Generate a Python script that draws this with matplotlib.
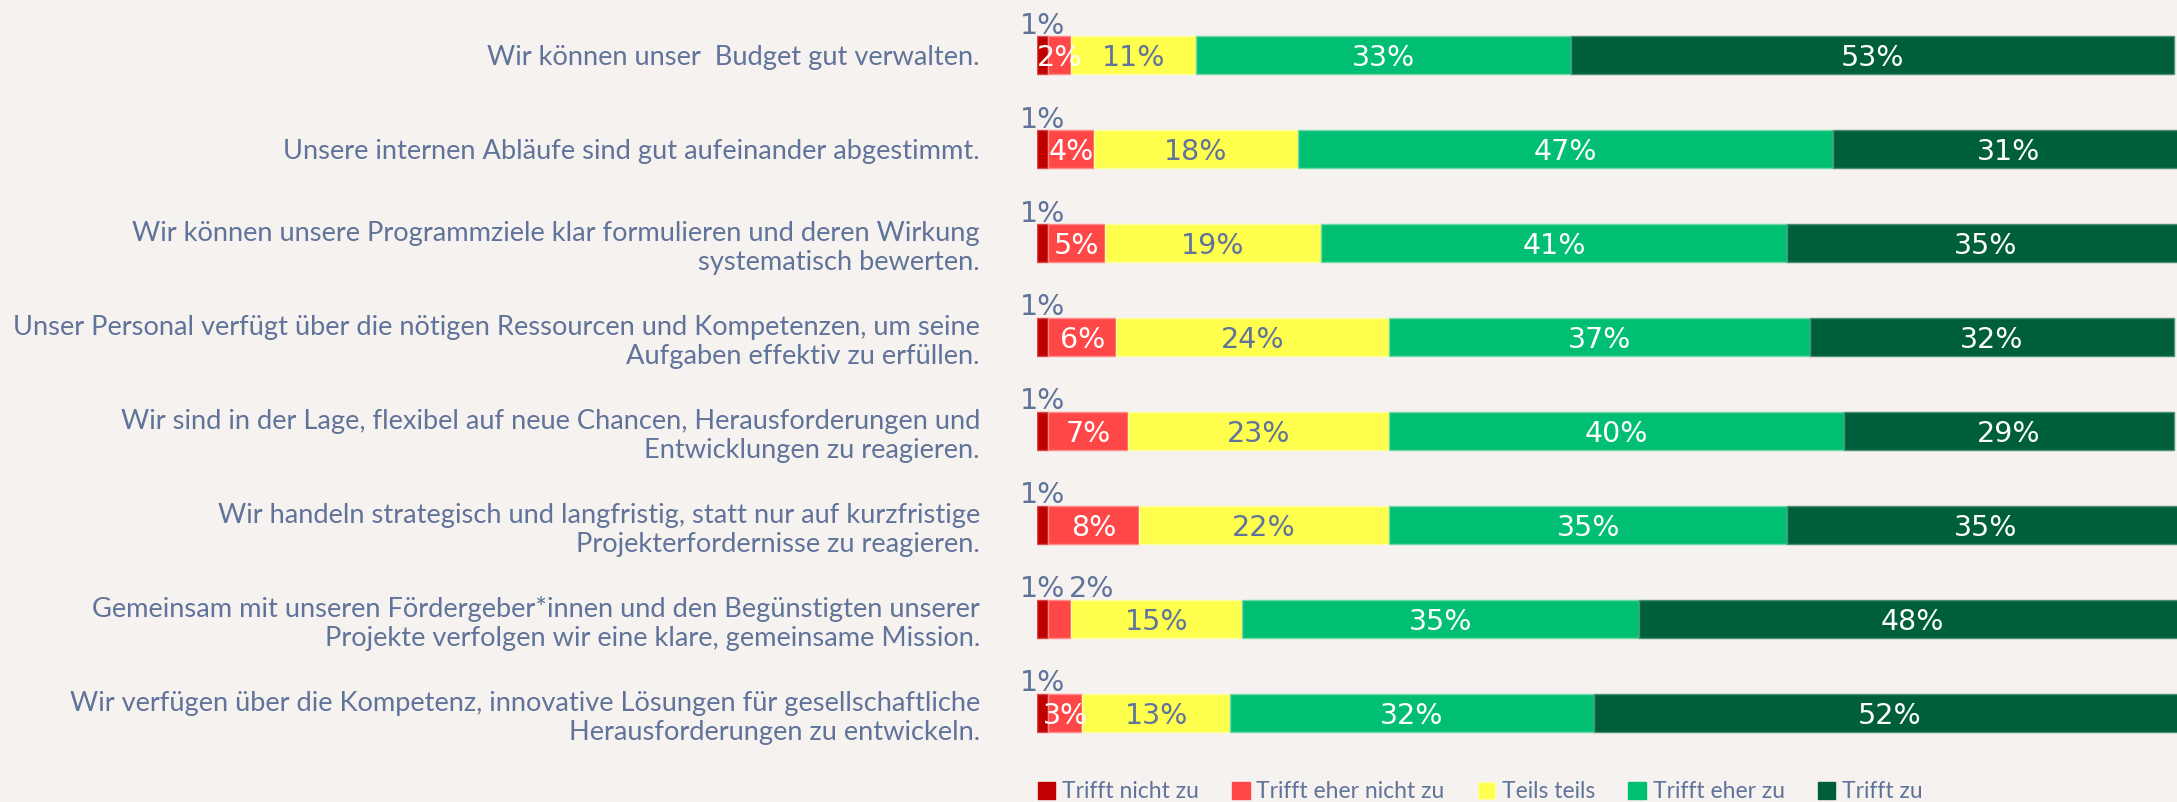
import matplotlib.pyplot as plt
from matplotlib.patches import Patch

# statements (top to bottom) and answer shares in %
statements = [
    'Wir können unser  Budget gut verwalten.',
    'Unsere internen Abläufe sind gut aufeinander abgestimmt.',
    'Wir können unsere Programmziele klar formulieren und deren Wirkung\nsystematisch bewerten.',
    'Unser Personal verfügt über die nötigen Ressourcen und Kompetenzen, um seine\nAufgaben effektiv zu erfüllen.',
    'Wir sind in der Lage, flexibel auf neue Chancen, Herausforderungen und\nEntwicklungen zu reagieren.',
    'Wir handeln strategisch und langfristig, statt nur auf kurzfristige\nProjekterfordernisse zu reagieren.',
    'Gemeinsam mit unseren Fördergeber*innen und den Begünstigten unserer\nProjekte verfolgen wir eine klare, gemeinsame Mission.',
    'Wir verfügen über die Kompetenz, innovative Lösungen für gesellschaftliche\nHerausforderungen zu entwickeln.',
]
trifft_nicht_zu = [1, 1, 1, 1, 1, 1, 1, 1]
trifft_eher_nicht_zu = [2, 4, 5, 6, 7, 8, 2, 3]
teils_teils = [11, 18, 19, 24, 23, 22, 15, 13]
trifft_eher_zu = [33, 47, 41, 37, 40, 35, 35, 32]
trifft_zu = [53, 31, 35, 32, 29, 35, 48, 52]

series_names = ['Trifft nicht zu', 'Trifft eher nicht zu', 'Teils teils', 'Trifft eher zu', 'Trifft zu']
series = [trifft_nicht_zu, trifft_eher_nicht_zu, teils_teils, trifft_eher_zu, trifft_zu]

colors = ['#c00000', '#ff4747', '#ffff4d', '#00bf73', '#005f3b']
edge_colors = ['#d84a4a', '#ff8a8a', '#ffffa6', '#6fd9a8', '#4d8f73']
label_colors = ['#60739a', 'white', '#60739a', 'white', 'white']
bg = '#f6f2ef'
text_col = '#60739a'
pct_font = 'DejaVu Sans'

plt.rcParams['font.family'] = ['Lato', 'DejaVu Sans']

fig = plt.figure(figsize=(21.77, 8.02), dpi=100, facecolor=bg)
ax = fig.add_axes([0.4763, 0.0524, 0.5237, 0.937])
ax.set_facecolor(bg)

bar_h = 0.405
ypos = list(range(len(statements)))
left = [0] * len(statements)

for k, (vals, name) in enumerate(zip(series, series_names)):
    ax.barh(ypos, vals, left=left, height=bar_h, color=colors[k],
            edgecolor=edge_colors[k], linewidth=1, label=name)
    for i, v in enumerate(vals):
        xc = left[i] + v / 2
        if k == 0:
            # tiny share -> label above the bar
            ax.annotate(f'{v}%', xy=(xc, i - bar_h / 2), xytext=(0, 2), textcoords='offset points',
                        ha='center', va='baseline', fontsize=20.5, color=text_col, family=pct_font)
        elif k == 1 and i == 6:
            ax.annotate(f'{v}%', xy=(xc, i - bar_h / 2), xytext=(23, 2), textcoords='offset points',
                        ha='center', va='baseline', fontsize=20.5, color=text_col, family=pct_font)
        else:
            ax.text(xc, i, f'{v}%', ha='center', va='center_baseline', fontsize=20.5,
                    color=label_colors[k], clip_on=False, family=pct_font)
    left = [a + b for a, b in zip(left, vals)]

ax.set_xlim(0, 100.3)
ax.set_ylim(len(statements) - 0.5, -0.5)
ax.set_yticks(ypos)
ax.set_yticklabels(statements, fontsize=19.6, color=text_col)
ax.tick_params(axis='y', length=0, pad=41)
ax.set_xticks([])
for s in ax.spines.values():
    s.set_visible(False)

handles = [Patch(facecolor=colors[k], edgecolor=edge_colors[k] if k == 2 else colors[k], label=series_names[k])
           for k in range(5)]
fig.legend(handles=handles, loc='center', bbox_to_anchor=(0.68, 0.0125), ncol=5, frameon=False,
           fontsize=16.5, handlelength=0.75, handleheight=0.75, handletextpad=0.3, columnspacing=1.45,
           labelcolor=text_col)

fig.savefig('out.png', dpi=100, facecolor=bg)
